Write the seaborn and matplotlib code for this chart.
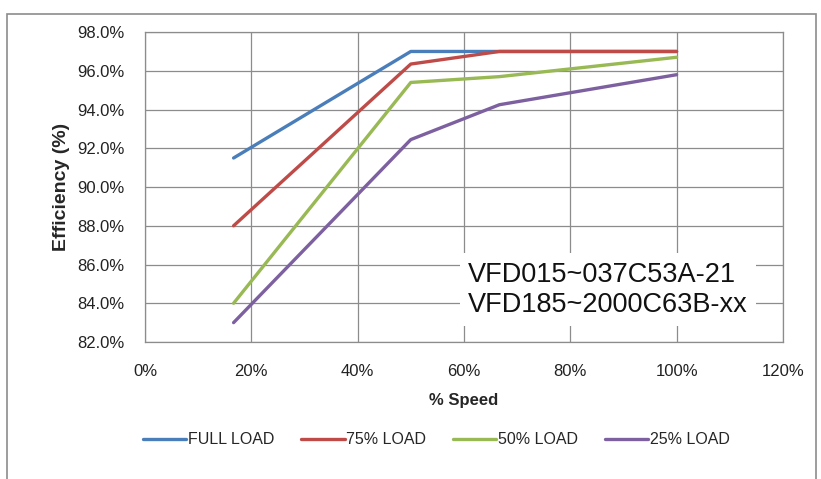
import pandas as pd
import matplotlib.pyplot as plt
import seaborn as sns
from matplotlib.patches import Rectangle
from matplotlib.ticker import FuncFormatter

# % speed at which each point was measured
speed = [100 / 6, 50, 200 / 3, 100]

full_load = [91.5, 97.0, 97.0, 97.0]
load_75 = [88.0, 96.35, 97.0, 97.0]
load_50 = [84.0, 95.4, 95.7, 96.7]
load_25 = [83.0, 92.45, 94.25, 95.8]

series = ['FULL LOAD', '75% LOAD', '50% LOAD', '25% LOAD']
colors = ['#4A7EBB', '#BE4B48', '#98B954', '#7D60A0']

rows = []
for name, vals in zip(series, [full_load, load_75, load_50, load_25]):
    for s, v in zip(speed, vals):
        rows.append({'speed': s, 'eff': v, 'load': name})
df = pd.DataFrame(rows)

sns.set_style('white')
plt.rcParams['font.family'] = ['Liberation Sans', 'DejaVu Sans']

fig = plt.figure(figsize=(8.21, 4.79), dpi=100)
ax = fig.add_axes([0.1766, 0.286, 0.777, 0.647])

sns.lineplot(data=df, x='speed', y='eff', hue='load', hue_order=series,
             palette=colors, linewidth=2.4, ax=ax, legend=True)

ax.set_xlim(0, 120)
ax.set_ylim(82, 98)
ax.set_xticks(range(0, 121, 20))
ax.set_yticks(range(82, 99, 2))
ax.xaxis.set_major_formatter(FuncFormatter(lambda v, p: f'{v:.0f}%'))
ax.yaxis.set_major_formatter(FuncFormatter(lambda v, p: f'{v:.1f}%'))
ax.tick_params(axis='both', length=0, labelsize=12, colors='#222222')
ax.tick_params(axis='y', pad=15)
ax.tick_params(axis='x', pad=16)
ax.grid(True, color='#8c8c8c', linewidth=0.9)
ax.set_axisbelow(True)
for sp in ax.spines.values():
    sp.set_color('#8c8c8c')
    sp.set_linewidth(0.9)

ax.set_xlabel('% Speed', fontsize=12, fontweight='bold', labelpad=10)
ax.set_ylabel('Efficiency (%)', fontsize=14, fontweight='bold', labelpad=5)

ax.text(60.8, 84.7, 'VFD015~037C53A-21\nVFD185~2000C63B-xx', fontsize=19.5,
        ha='left', va='center', linespacing=1.2, color='#111111',
        bbox=dict(facecolor='white', edgecolor='none', pad=6))

ax.legend(loc='upper center', bbox_to_anchor=(0.457, -0.245), ncol=4,
          frameon=False, fontsize=11.5, handlelength=2.7, handletextpad=0.1,
          columnspacing=1.7)

fig.patches.append(Rectangle((0.009, -0.01), 0.985, 0.98, transform=fig.transFigure,
                             fill=False, edgecolor='#8c8c8c', linewidth=1.2))

fig.savefig('out.png', dpi=100)
